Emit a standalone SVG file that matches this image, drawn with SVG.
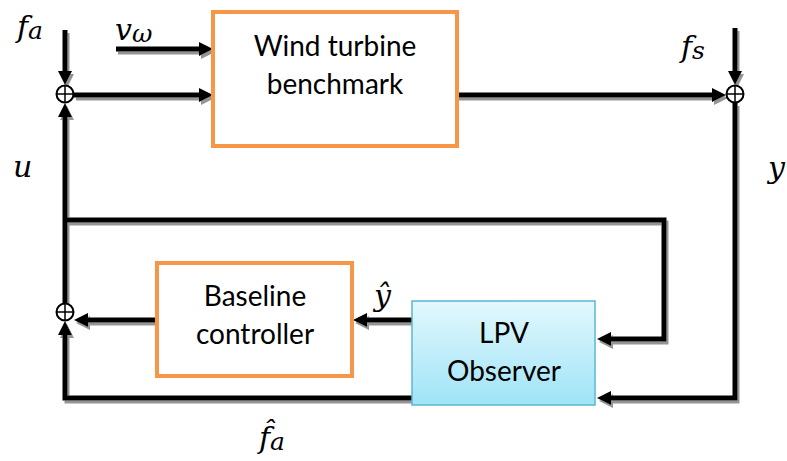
<svg xmlns="http://www.w3.org/2000/svg" width="787" height="461" viewBox="0 0 787 461">
<defs>
<style>
.box{fill:#ffffff;stroke:#f79646;stroke-width:4}
.obs{fill:url(#cyan);stroke:#5bb8d0;stroke-width:1.5}
.lbl{font-family:Lato,"Open Sans",sans-serif;font-size:28px;fill:#000;text-anchor:middle}
.math{font-family:"DejaVu Serif","Liberation Serif",serif;font-style:italic;font-size:30px;fill:#000}
.sub{font-size:25px}
.wire{fill:none;stroke:#000;stroke-width:5}
.arr{marker-end:url(#ah)}
.sum{fill:#fff;stroke:#000;stroke-width:2}
</style>
<linearGradient id="cyan" x1="0" y1="0" x2="0" y2="1">
<stop offset="0" stop-color="#e3f8fd"/>
<stop offset="1" stop-color="#9fe4f7"/>
</linearGradient>
<marker id="ah" markerUnits="userSpaceOnUse" markerWidth="15" markerHeight="15" refX="4" refY="7" orient="auto">
<path d="M0,0 L14,7 L0,14 z" fill="#000"/>
</marker>
<filter id="sh" x="-10%" y="-10%" width="120%" height="120%">
<feDropShadow dx="2" dy="3" stdDeviation="0.6" flood-color="#888" flood-opacity="0.9"/>
</filter>
</defs>

<g id="connectors" filter="url(#sh)">
<path class="wire arr" d="M65 30 V75"/>
<path class="wire arr" d="M116 49 H203"/>
<path class="wire arr" d="M74 95 H203"/>
<path class="wire arr" d="M457 95 H716"/>
<path class="wire arr" d="M735 28 V75"/>
<path class="wire arr" d="M735 103 V398 H607"/>
<path class="wire arr" d="M65 220 H664 V339 H607"/>
<path class="wire arr" d="M65 304 V113"/>
<path class="wire arr" d="M157 320 H84"/>
<path class="wire arr" d="M412 320 H363"/>
<path class="wire arr" d="M412 398 H65 V331"/>
</g>

<g id="sum1"><circle class="sum" cx="65" cy="94" r="8.5"/><path d="M56.5 94 H73.5 M65 85.5 V102.5" stroke="#000" stroke-width="1.5"/></g>
<g id="sum2"><circle class="sum" cx="735" cy="94" r="8.5"/><path d="M726.5 94 H743.5 M735 85.5 V102.5" stroke="#000" stroke-width="1.5"/></g>
<g id="sum3"><circle class="sum" cx="65" cy="312" r="8.5"/><path d="M56.5 312 H73.5 M65 303.5 V320.5" stroke="#000" stroke-width="1.5"/></g>

<g id="wind-turbine">
<rect class="box" x="213" y="12" width="244" height="134"/>
<text class="lbl" x="335" y="56">Wind turbine</text>
<text class="lbl" x="335" y="94">benchmark</text>
</g>

<g id="baseline-controller">
<rect class="box" x="157" y="263" width="195" height="113"/>
<text class="lbl" x="255" y="306">Baseline</text>
<text class="lbl" x="255" y="344">controller</text>
</g>

<g id="lpv-observer">
<rect class="obs" x="412" y="301" width="183" height="104"/>
<text class="lbl" x="504" y="343">LPV</text>
<text class="lbl" x="504" y="381">Observer</text>
</g>

<g id="labels">
<text class="math" x="17" y="37">f<tspan class="sub" dy="2">a</tspan></text>
<text class="math" x="115" y="40">v<tspan class="sub" dy="2">ω</tspan></text>
<text class="math" x="681" y="57">f<tspan class="sub" dy="2">s</tspan></text>
<text class="math" x="13" y="177">u</text>
<text class="math" x="768" y="178">y</text>
<text class="math" x="374" y="306">ŷ</text>
<text class="math" x="259" y="448">f̂<tspan class="sub" dy="2">a</tspan></text>
</g>
</svg>
